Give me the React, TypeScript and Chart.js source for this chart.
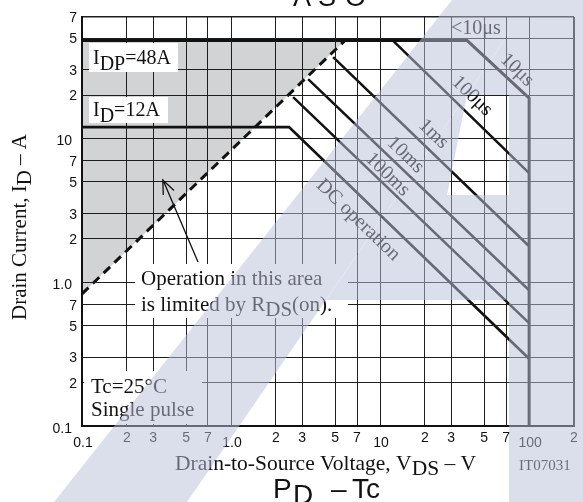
import React, { useEffect, useRef } from "react";
import { Chart, registerables } from "chart.js";

Chart.register(...registerables);

// ---- axis ticks ----
const xTickValues = [0.1, 0.2, 0.3, 0.5, 0.7, 1, 2, 3, 5, 7, 10, 20, 30, 50, 70, 100, 200];
const xTickLabels = ["0.1", "2", "3", "5", "7", "1.0", "2", "3", "5", "7", "10", "2", "3", "5", "7", "100", "2"];
const yTickValues = [0.1, 0.2, 0.3, 0.5, 0.7, 1, 2, 3, 5, 7, 10, 20, 30, 50, 70];
const yTickLabels = ["0.1", "2", "3", "5", "7", "1.0", "2", "3", "5", "7", "10", "2", "3", "5", "7"];

// ---- series (VDS in V, ID in A) ----
const limitVds = [0.1, 38.4, 100, 100];
const limitId = [48, 48, 19.1, 0.1];
const pulse100usVds = [12.2, 100];
const pulse100usId = [48, 5.74];
const pulse1msVds = [4.84, 100];
const pulse1msId = [36.8, 1.78];
const pulse10msVds = [3.29, 100];
const pulse10msId = [25.9, 0.88];
const pulse100msVds = [2.61, 100];
const pulse100msId = [19.4, 0.52];
const dcVds = [0.1, 2.45, 100];
const dcId = [12, 12, 0.294];
const rdsVds = [0.1, 5.8];
const rdsId = [0.83, 48];
const idpValue = 48;

const SERIF = '"Liberation Serif", "Times New Roman", serif';
const SANS = '"Liberation Sans", Arial, sans-serif';

const isDecade = (v: number) => Math.abs(Math.log10(v) - Math.round(Math.log10(v))) < 1e-9;

function drawRich(ctx: CanvasRenderingContext2D, parts: Array<[string, number]>, x: number, y: number) {
  let cx = x;
  for (const [t, dy] of parts) {
    ctx.fillText(t, cx, y + dy);
    cx += ctx.measureText(t).width;
  }
}

function poly(o: CanvasRenderingContext2D, pts: number[][]) {
  o.beginPath();
  o.moveTo(pts[0][0], pts[0][1]);
  for (let i = 1; i < pts.length; i++) o.lineTo(pts[i][0], pts[i][1]);
  o.closePath();
  o.fill();
}

const decorPlugin = {
  id: "decor",
  beforeDraw(chart: any) {
    const c = chart.ctx;
    c.save();
    c.fillStyle = "#ffffff";
    c.fillRect(0, 0, chart.width, chart.height);
    c.restore();
  },
  afterDraw(chart: any) {
    const ctx: CanvasRenderingContext2D = chart.ctx;
    const xs = chart.scales.x;
    const ys = chart.scales.y;
    ctx.save();

    // tick labels
    ctx.fillStyle = "#111";
    ctx.font = `14px ${SANS}`;
    ctx.textAlign = "center";
    ctx.textBaseline = "alphabetic";
    xTickValues.forEach((v, i) => {
      const dec = isDecade(v);
      const px = xs.getPixelForValue(v);
      ctx.fillText(xTickLabels[i], px + (dec ? 1 : 0), dec ? 447 : 442);
    });
    ctx.textAlign = "right";
    yTickValues.forEach((v, i) => {
      const dec = isDecade(v);
      const py = ys.getPixelForValue(v);
      ctx.fillText(yTickLabels[i], dec ? 72 : 77, py + (dec ? 6.5 : 5));
    });

    // white label boxes
    ctx.fillStyle = "#ffffff";
    ctx.fillRect(89, 43, 89, 29);
    ctx.fillRect(89, 97, 79, 26);
    ctx.fillRect(135, 264, 213, 54);
    ctx.fillRect(84, 371, 118, 53);

    ctx.fillStyle = "#111";
    ctx.textAlign = "left";
    ctx.font = `20px ${SERIF}`;
    drawRich(ctx, [["I", 0], ["DP", 5.5], ["=48A", 0]], 93, 64);
    drawRich(ctx, [["I", 0], ["D", 5.5], ["=12A", 0]], 93, 116);
    ctx.fillText("<10\u03bcs", 451, 34);

    ctx.font = `21px ${SERIF}`;
    ctx.fillText("Operation in this area", 141, 285);
    drawRich(ctx, [["is limited by R", 0], ["DS", 5], ["(on).", 0]], 141, 311);
    ctx.fillText("Tc=25\u00b0C", 91, 393);
    ctx.fillText("Single pulse", 91, 415.5);

    // rotated line labels
    const ang = Math.atan2(143.8, 149);
    ctx.font = `20px ${SERIF}`;
    ctx.textAlign = "center";
    ctx.textBaseline = "middle";
    const rot: Array<[string, number, number]> = [
      ["10\u03bcs", 517, 70],
      ["100\u03bcs", 472, 96],
      ["1ms", 433.5, 134],
      ["10ms", 405.5, 155],
      ["100ms", 387.5, 174.5],
      ["DC operation", 358, 220],
    ];
    rot.forEach(([t, x, y]) => {
      ctx.save();
      ctx.translate(x, y);
      ctx.rotate(ang);
      ctx.fillText(t, 0, 0);
      ctx.restore();
    });

    // arrow
    ctx.strokeStyle = "#111";
    ctx.lineWidth = 1.3;
    ctx.beginPath();
    ctx.moveTo(198, 262);
    ctx.lineTo(163, 180);
    ctx.moveTo(163.3, 195);
    ctx.lineTo(162.8, 180);
    ctx.lineTo(174, 190.5);
    ctx.stroke();

    // axis titles
    ctx.textBaseline = "alphabetic";
    ctx.textAlign = "left";
    ctx.font = `21.5px ${SERIF}`;
    drawRich(ctx, [["Drain-to-Source Voltage, V", 0], ["DS", 5], [" \u2013 V", 0]], 175, 470);
    ctx.font = `15px ${SERIF}`;
    ctx.fillText("IT07031", 519, 470);

    ctx.save();
    ctx.translate(26, 320);
    ctx.rotate(-Math.PI / 2);
    ctx.font = `21px ${SERIF}`;
    drawRich(ctx, [["Drain Current, I", 0], ["D", 5], [" \u2013 A", 0]], 0, 0);
    ctx.restore();

    // neighbouring titles (cut by page)
    ctx.font = `27px ${SANS}`;
    ctx.fillText("A", 293, 6);
    ctx.fillText("S", 318, 6);
    ctx.fillText("O", 345, 6);
    ctx.font = `28px ${SANS}`;
    ctx.fillText("P", 273, 498);
    ctx.fillText("D", 293, 504);
    ctx.fillText("\u2013", 331, 498);
    ctx.fillText("Tc", 352, 498);

    // watermark overlay
    const off = document.createElement("canvas");
    off.width = chart.width;
    off.height = chart.height;
    const o = off.getContext("2d")!;
    o.fillStyle = "rgb(186,192,216)";
    poly(o, [[54, 502], [187, 502], [532, 0], [452, 0]]);
    poly(o, [[326, 300], [509, 300], [509, 0], [532, 0]]);
    o.globalCompositeOperation = "destination-out";
    poly(o, [[467, 95], [509, 95], [509, 195], [447, 195]]);
    o.globalCompositeOperation = "source-over";
    o.fillRect(509, 0, 74, 502);
    ctx.globalAlpha = 0.51;
    ctx.drawImage(off, 0, 0);
    ctx.globalAlpha = 1;

    ctx.restore();
  },
};

export default function App() {
  const ref = useRef<HTMLCanvasElement>(null);

  useEffect(() => {
    const canvas = ref.current;
    if (!canvas) return;
    const pts = (xsArr: number[], ysArr: number[]) => xsArr.map((x, i) => ({ x, y: ysArr[i] }));
    const line = (label: string, xsArr: number[], ysArr: number[], width: number, extra: any = {}) => ({
      label,
      data: pts(xsArr, ysArr),
      borderColor: "#111",
      backgroundColor: "transparent",
      borderWidth: width,
      pointRadius: 0,
      fill: false,
      tension: 0,
      order: 0,
      borderJoinStyle: "miter",
      borderCapStyle: "butt",
      ...extra,
    });

    const chart = new Chart(canvas, {
      type: "line",
      data: {
        datasets: [
          line("RDS(on)", rdsVds, rdsId, 3, { borderDash: [9, 6] }),
          line("limit", limitVds, limitId, 3),
          line("100us", pulse100usVds, pulse100usId, 2.5),
          line("1ms", pulse1msVds, pulse1msId, 2.5),
          line("10ms", pulse10msVds, pulse10msId, 2.5),
          line("100ms", pulse100msVds, pulse100msId, 2.5),
          line("DC", dcVds, dcId, 2.7),
          {
            label: "shade",
            data: pts(rdsVds, rdsId),
            borderWidth: 0,
            borderColor: "transparent",
            backgroundColor: "#d2d3d5",
            pointRadius: 0,
            order: 5,
            fill: { value: idpValue },
          } as any,
        ],
      },
      options: {
        animation: false,
        responsive: false,
        maintainAspectRatio: false,
        events: [],
        layout: { padding: { left: 0, right: 9, top: 17, bottom: 0 } },
        plugins: { legend: { display: false }, tooltip: { enabled: false } },
        scales: {
          x: {
            type: "logarithmic",
            min: 0.1,
            max: 200,
            afterBuildTicks: (s: any) => {
              s.ticks = xTickValues.map((v) => ({ value: v }));
            },
            afterFit: (s: any) => {
              s.height = 76;
            },
            ticks: { display: false },
            grid: {
              z: 1,
              color: "#1e1e1e",
              lineWidth: (c: any) => (c.tick && c.tick.value === 200 ? 2 : 1),
              drawTicks: false,
              tickLength: 0,
            },
            border: { display: true, color: "#111", width: 2, z: 2 },
          } as any,
          y: {
            type: "logarithmic",
            min: 0.1,
            max: 70,
            afterBuildTicks: (s: any) => {
              s.ticks = yTickValues.map((v) => ({ value: v }));
            },
            afterFit: (s: any) => {
              s.width = 82;
            },
            ticks: { display: false },
            grid: {
              z: 1,
              color: "#1e1e1e",
              lineWidth: (c: any) => (c.tick && c.tick.value === 70 ? 1.5 : 1),
              drawTicks: false,
              tickLength: 0,
            },
            border: { display: true, color: "#111", width: 2, z: 2 },
          } as any,
        },
      },
      plugins: [decorPlugin],
    } as any);

    return () => chart.destroy();
  }, []);

  return (
    <div style={{ position: "absolute", left: 0, top: 0, width: 583, height: 502 }}>
      <canvas ref={ref} width={583} height={502} style={{ width: 583, height: 502, display: "block" }} />
    </div>
  );
}
